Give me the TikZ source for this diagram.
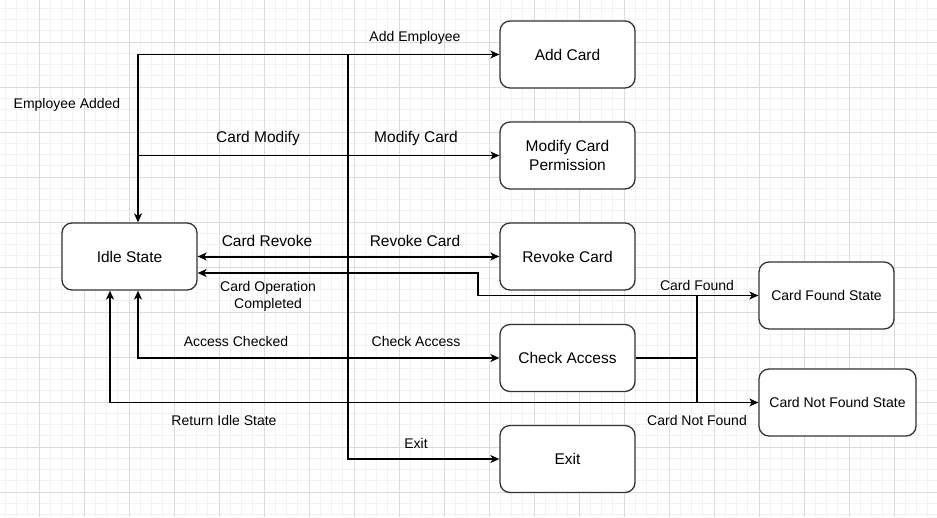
\documentclass[tikz,border=0pt]{standalone}
\usepackage{fontspec}
\setmainfont{Liberation Sans}
\usetikzlibrary{arrows.meta}
\definecolor{gridminor}{HTML}{F2F2F2}
\definecolor{gridmajor}{HTML}{DCDCDC}
\definecolor{boxline}{HTML}{333333}
\tikzset{
  state/.style={draw=boxline, line width=1.3pt, rounded corners=10pt, fill=white,
    minimum width=135pt, minimum height=67pt, inner sep=0pt, align=center,
    font=\fontsize{15.5}{19}\selectfont},
  smallstate/.style={state, font=\fontsize{14}{17}\selectfont},
  lbl/.style={inner sep=0pt, align=center, font=\fontsize{14}{16.5}\selectfont},
  biglbl/.style={lbl, font=\fontsize{15.5}{18}\selectfont},
  conn/.style={draw=black, line width=1.3pt},
  arrowend/.style={-{Stealth[length=9pt,width=8pt,inset=2.5pt]}},
  bothends/.style={{Stealth[length=9pt,width=8pt,inset=2.5pt]}-{Stealth[length=9pt,width=8pt,inset=2.5pt]}},
}
\begin{document}
\begin{tikzpicture}[x=1pt,y=-1pt]
\useasboundingbox (0,0) rectangle (937,517);
\fill[white] (0,0) rectangle (937,517);
% grid
\begin{scope}
\clip (0,0) rectangle (937,517);
\foreach \i in {0,...,84} {
  \draw[gridminor, line width=1pt] ({-6+11.25*\i},0) -- ({-6+11.25*\i},517);
}
\foreach \i in {0,...,47} {
  \draw[gridminor, line width=1pt] (0,{-3+11.25*\i}) -- (937,{-3+11.25*\i});
}
\foreach \i in {0,...,21} {
  \draw[gridmajor, line width=1pt] ({-6+45*\i},0) -- ({-6+45*\i},517);
}
\foreach \i in {0,...,12} {
  \draw[gridmajor, line width=1pt] (0,{-3+45*\i}) -- (937,{-3+45*\i});
}
\end{scope}

% states
\node[state] (idle) at (129.5,256.5) {Idle State};
\node[state] (add) at (567.5,54.5) {Add Card};
\node[state] (mod) at (567.5,155.5) {Modify Card\\Permission};
\node[state] (rev) at (567.5,256.5) {Revoke Card};
\node[state] (chk) at (567.5,358) {Check Access};
\node[state] (exit) at (567.5,459) {Exit};
\node[smallstate] (found) at (826.5,295.5) {Card Found State};
\node[smallstate, minimum width=157pt] (notfound) at (837.5,402.5) {Card Not Found State};

% helper coordinates
\coordinate (ex1) at (348,54);
\coordinate (m1) at (138,155.5);
\coordinate (bend) at (478,273);
\coordinate (br) at (697,358);

% connectors
\draw[conn, bothends] ([xshift=8.5pt]idle.north) |- (add.west);
\draw[conn, arrowend] (m1) -- (mod.west);
\draw[conn, arrowend] (ex1) |- (exit.west);
\draw[conn, bothends, line width=2pt] (idle.east) -- (rev.west);
\draw[conn, arrowend] (found.west) -| (bend) -- ([yshift=-16.5pt]idle.east);
\draw[conn, arrowend] (chk.east) -- (br) |- (found.west);
\draw[conn, arrowend] (br) |- (notfound.west);
\draw[conn, bothends] ([xshift=8.5pt]idle.south) |- (chk.west);
\draw[conn, arrowend] (notfound.west) -| ([xshift=-19.5pt]idle.south);

% labels
\node[lbl] (l1) at (415,38) {Add Employee};
\node[lbl] (l2) at (67,105) {Employee Added};
\node[biglbl] (l3) at (258,138.5) {Card Modify};
\node[biglbl] (l4) at (416,138.5) {Modify Card};
\node[biglbl] (l5) at (267,240.5) {Card Revoke};
\node[biglbl] (l6) at (415,240.5) {Revoke Card};
\node[lbl] (l7) at (268,296.5) {Card Operation\\Completed};
\node[lbl] (l8) at (697,285) {Card Found};
\node[lbl] (l9) at (236,341) {Access Checked};
\node[lbl] (l10) at (416,341) {Check Access};
\node[lbl] (l11) at (224,420) {Return Idle State};
\node[lbl] (l12) at (697,420) {Card Not Found};
\node[lbl] (l13) at (416,443) {Exit};
\end{tikzpicture}
\end{document}
